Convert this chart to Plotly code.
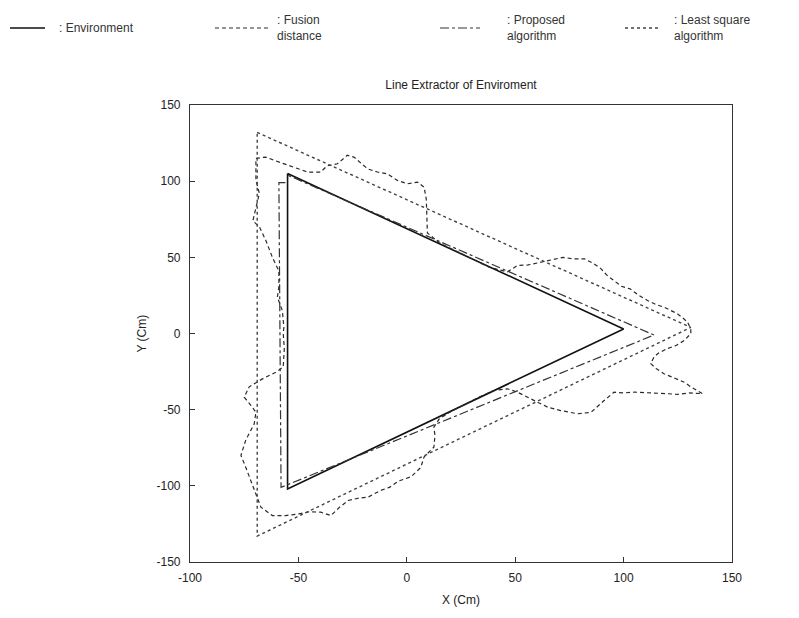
import plotly.graph_objects as go

# Environment (true walls)
env_x = [-55, 100, -55, -55]
env_y = [105, 3, -102, 105]

# Least square algorithm
ls_x = [-69, 131, -69, -69]
ls_y = [132, 4, -133, 132]

# Proposed algorithm
prop_x = [-56, -59, -58, 114, -55]
prop_y = [99, 99, -101, -1, 104]

# Fusion distance (raw fused sensor contour)
fus_x = [-69.6, -65, -61, -56.6, -52, -45.8, -39.7, -36.8, -32, -27.4, -24.4, -21, -18, -13.5, -9, -4.3, 0.3, 5, 8, 9, 9.5,
         15, 22, 30, 38, 46.4, 51, 56, 61.8, 67, 72, 77, 82, 86, 89.5, 92.5, 95.6, 99, 103, 107, 111, 115, 118.6, 122, 124.8,
         127.5, 129.5, 131, 131, 128, 124, 120, 116, 114, 112.5, 115, 118.6, 123, 128, 131, 134, 136.4, 130, 125, 120, 113,
         105, 100, 95.6, 91, 85, 78.8, 71, 65, 60.3, 55.7, 51, 46.4, 40, 33, 26, 20, 15, 12.5, 13, 12.5, 8, 6.4, 2, -4, -8,
         -12, -18, -22, -27, -31, -35, -39.7, -45, -49.7, -55.8, -62, -67.3, -69.6, -72.7, -74.3, -76.5, -74.3, -70.4, -69.6,
         -72, -75, -72.7, -66.6, -60.4, -57, -56.5, -57, -56.7, -57.4, -59.7, -59, -59, -62, -65, -68, -71, -69.6, -68, -69.6,
         -69.6]
fus_y = [115, 115.8, 113.6, 111.4, 109, 106, 106, 110, 111.4, 117, 115.8, 111.4, 108, 106, 104.8, 100.5, 98.3, 99.4, 96, 88, 66,
         59.5, 54.5, 49, 43.5, 40.5, 44.6, 45, 46.8, 48, 50, 49, 49, 46, 42.6, 38, 34.8, 31, 29.3, 25, 21.7, 19, 17.3, 15, 13,
         10, 7.4, 3, 0, -4.6, -8, -10, -13, -15.5, -19.8, -23, -26.4, -29, -32, -35, -37.4, -39.5, -39, -40, -39.5, -39,
         -38.5, -39, -38.5, -44, -51.7, -52.7, -50.6, -48.4, -45, -41.8, -38.5, -36.3, -37.5, -42, -47, -51.5, -56, -61.5, -67, -74.6, -81, -88, -94, -97, -101,
         -103, -107.5, -108, -109.6, -114, -119.5, -117.3, -117, -118.4, -119.5, -119.5, -114, -105, -94, -87.8, -80, -70, -59.4, -51.7,
         -47, -41.8, -35, -29.8, -25.4, -22, -10, 0, 4, 15, 23.8, 30.4, 41, 50, 61, 70, 74, 83, 92, 100.5,
         115]

x_ticks = [-100, -50, 0, 50, 100, 150]
y_ticks = [-150, -100, -50, 0, 50, 100, 150]

legend_labels = [": Environment", ": Fusion<br>distance", ": Proposed<br>algorithm", ": Least square<br>algorithm"]
x_title = "X (Cm)"
y_title = "Y (Cm)"
chart_title = "Line Extractor of Enviroment"

font_family = "Liberation Sans, Arial, sans-serif"

# page geometry (page has 8px body margin)
W, H = 783, 602
ML, MR, MT, MB = 182, 59, 97, 48
PX0, PX1, PY0, PY1 = 8 + ML, 8 + W - MR, 8 + MT, 8 + H - MB


def px_to_paper_x(px):
    return (px - PX0) / (PX1 - PX0)


def py_to_paper_y(py):
    return (PY1 - py) / (PY1 - PY0)


styles = [
    dict(color="#111111", width=1.6, dash="solid"),
    dict(color="#2a2a2a", width=1.2, dash="4px,3px"),
    dict(color="#333333", width=1.2, dash="dashdot"),
    dict(color="#444444", width=1.4, dash="dot"),
]
series = [(env_x, env_y), (fus_x, fus_y), (prop_x, prop_y), (ls_x, ls_y)]

fig = go.Figure()
for (xs, ys), st, name in zip(series, styles, legend_labels):
    fig.add_trace(go.Scatter(x=xs, y=ys, mode="lines", name=name, line=st, showlegend=False))

# custom legend row across the top of the page
leg_sample = [(10, 45), (215, 270), (440, 480), (625, 660)]
leg_text_x = [57, 275, 505, 672]
leg_y = 28
for (a, b), tx, st, name in zip(leg_sample, leg_text_x, styles, legend_labels):
    fig.add_shape(type="line", xref="paper", yref="paper",
                  x0=px_to_paper_x(a), x1=px_to_paper_x(b),
                  y0=py_to_paper_y(leg_y), y1=py_to_paper_y(leg_y),
                  line=dict(color=st["color"], width=st["width"], dash=st["dash"]))
    fig.add_annotation(xref="paper", yref="paper", x=px_to_paper_x(tx), y=py_to_paper_y(leg_y),
                       text=name, showarrow=False, xanchor="left", yanchor="middle", align="left",
                       font=dict(family=font_family, size=12, color="#333333"))

# axis titles as text placed outside the frame
fig.add_annotation(xref="paper", yref="paper", x=0.5, y=py_to_paper_y(600), text=x_title,
                   showarrow=False, xanchor="center", yanchor="middle",
                   font=dict(family=font_family, size=12, color="#222222"))
fig.add_annotation(xref="paper", yref="paper", x=px_to_paper_x(141), y=0.5, text=y_title, textangle=-90,
                   showarrow=False, xanchor="center", yanchor="middle",
                   font=dict(family=font_family, size=12, color="#222222"))

axis_common = dict(showgrid=False, zeroline=False, showline=True, linecolor="#333333", linewidth=1.2,
                   mirror=True, ticks="inside", ticklen=5, tickcolor="#333333", automargin=False,
                   tickfont=dict(family=font_family, size=12, color="#222222"))

fig.update_layout(
    width=W, height=H,
    margin=dict(l=ML, r=MR, t=MT, b=MB),
    paper_bgcolor="white", plot_bgcolor="white",
    font=dict(family=font_family, size=12, color="#222222"),
    title=dict(text=chart_title, x=0.5, xref="paper", y=1 - (85 - 8) / H, yref="container",
               xanchor="center", yanchor="middle", font=dict(size=12)),
    xaxis=dict(range=[-100, 150], tickvals=x_ticks, ticktext=[str(v) for v in x_ticks],
               ticklabelstandoff=4, **axis_common),
    yaxis=dict(range=[-150, 150], tickvals=y_ticks, ticktext=[str(v) for v in y_ticks],
               ticklabelstandoff=6, **axis_common),
    showlegend=False,
)

fig.write_html("out.html")
